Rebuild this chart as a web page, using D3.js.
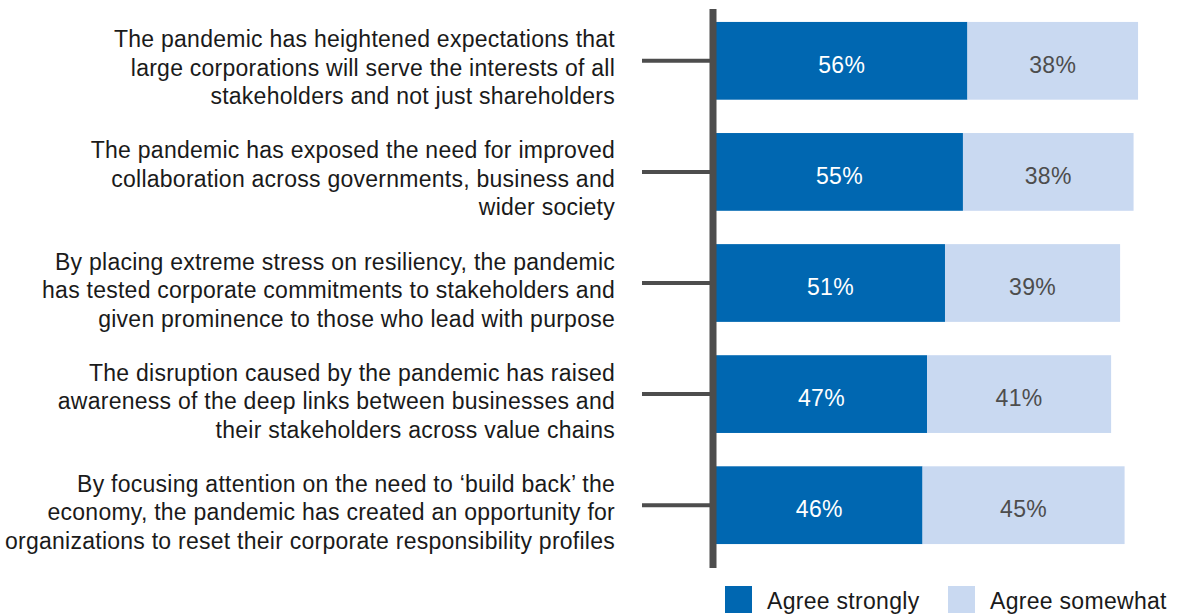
<!DOCTYPE html>
<html><head><meta charset="utf-8">
<script src="https://cdn.jsdelivr.net/npm/d3@7"></script>
<style>
html,body{margin:0;padding:0;background:#fff;}
svg{display:block;font-family:"Liberation Sans",Arial,Helvetica,sans-serif;}
</style></head>
<body><svg id="chart" width="1192" height="614"></svg>
<script>
const categories = [
  ["The pandemic has heightened expectations that","large corporations will serve the interests of all","stakeholders and not just shareholders"],
  ["The pandemic has exposed the need for improved","collaboration across governments, business and","wider society"],
  ["By placing extreme stress on resiliency, the pandemic","has tested corporate commitments to stakeholders and","given prominence to those who lead with purpose"],
  ["The disruption caused by the pandemic has raised","awareness of the deep links between businesses and","their stakeholders across value chains"],
  ["By focusing attention on the need to \u2018build back\u2019 the","economy, the pandemic has created an opportunity for","organizations to reset their corporate responsibility profiles"]
];
const agreeStrongly = [56, 55, 51, 47, 46];
const agreeSomewhat = [38, 38, 39, 41, 45];
const seriesNames = ["Agree strongly", "Agree somewhat"];
const colors = ["#0067b1", "#c9d9f1"];

const svg = d3.select("#chart");
const x = d3.scaleLinear().domain([0, 100]).range([716, 1165]);
const y = d3.scaleBand().domain(d3.range(categories.length)).range([7.5, 558.5]).paddingInner(0.3).paddingOuter(0.13);

// tick lines
svg.append("g").selectAll("line").data(categories).join("line")
  .attr("x1", 642).attr("x2", 712)
  .attr("y1", (d,i) => y(i) + y.bandwidth()/2)
  .attr("y2", (d,i) => y(i) + y.bandwidth()/2)
  .attr("stroke", "#4d4d4d").attr("stroke-width", 4);

// bars
const stack = categories.map((c,i) => [
  {s:0, x0:0, x1:agreeStrongly[i], v:agreeStrongly[i], i},
  {s:1, x0:agreeStrongly[i], x1:agreeStrongly[i]+agreeSomewhat[i], v:agreeSomewhat[i], i}
]).flat();

svg.append("g").selectAll("rect").data(stack).join("rect")
  .attr("x", d => x(d.x0)).attr("width", d => x(d.x1) - x(d.x0))
  .attr("y", d => y(d.i)).attr("height", y.bandwidth())
  .attr("fill", d => colors[d.s]);

svg.append("g").selectAll("text").data(stack).join("text")
  .attr("x", d => (x(d.x0) + x(d.x1))/2)
  .attr("y", d => y(d.i) + y.bandwidth()/2 + 12)
  .attr("text-anchor", "middle")
  .attr("font-size", 23)
  .attr("letter-spacing", 0.3)
  .attr("fill", d => d.s === 0 ? "#ffffff" : "#4d4d4d")
  .text(d => d.v + "%");

// axis line
svg.append("line").attr("x1", 713).attr("x2", 713).attr("y1", 9).attr("y2", 568)
  .attr("stroke", "#4d4d4d").attr("stroke-width", 7);

// category labels
const lab = svg.append("g").selectAll("text").data(categories).join("text")
  .attr("text-anchor", "end")
  .attr("font-size", 23)
  .attr("letter-spacing", 0.25)
  .attr("fill", "#1a1a1a");
lab.each(function(d,i){
  const t = d3.select(this);
  const cy = y(i) + y.bandwidth()/2;
  d.forEach((line,k) => {
    t.append("tspan").attr("x", 615).attr("y", cy + 15 + (k-1)*28.5).text(line);
  });
});

// legend
const leg = svg.append("g");
const legX = [725, 948];
seriesNames.forEach((n,k) => {
  leg.append("rect").attr("x", legX[k]).attr("y", 586).attr("width", 27).attr("height", 27).attr("fill", colors[k]);
  leg.append("text").attr("x", legX[k] + 42).attr("y", 609).attr("font-size", 23).attr("letter-spacing", 0.3).attr("fill", "#1a1a1a").text(n);
});
</script></body></html>
